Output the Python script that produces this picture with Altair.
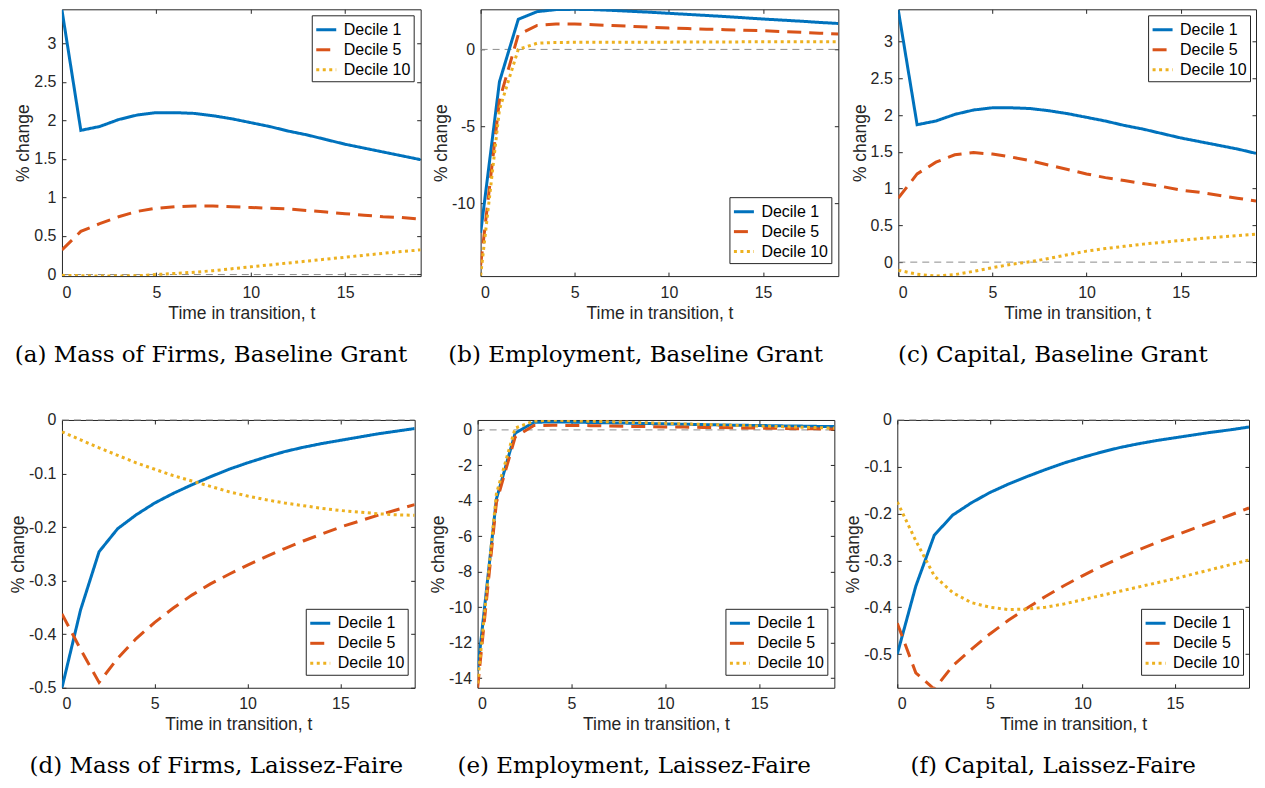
import altair as alt
import pandas as pd

T = list(range(20))
SERIES = ["Decile 1", "Decile 5", "Decile 10"]
COLORS = ["#0072BD", "#D95319", "#EDB120"]
DASHES = [[1, 0], [14, 8], [3, 3.5]]
X_TICKS = [0, 5, 10, 15]

# (a) Mass of Firms, Baseline Grant
a_d1 = [3.43, 1.87, 1.92, 2.01, 2.07, 2.10, 2.10, 2.09, 2.06, 2.02, 1.97, 1.92, 1.86, 1.81, 1.75, 1.69, 1.64, 1.59, 1.54, 1.49]
a_d5 = [0.32, 0.56, 0.66, 0.75, 0.82, 0.86, 0.88, 0.89, 0.89, 0.88, 0.87, 0.86, 0.85, 0.83, 0.81, 0.79, 0.77, 0.75, 0.74, 0.72]
a_d10 = [-0.01, -0.015, -0.02, -0.02, -0.015, 0.0, 0.015, 0.03, 0.05, 0.075, 0.10, 0.125, 0.15, 0.175, 0.20, 0.225, 0.25, 0.275, 0.30, 0.32]
a_yticks = [0, 0.5, 1, 1.5, 2, 2.5, 3]

# (b) Employment, Baseline Grant
b_d1 = [-11.9, -2.1, 1.95, 2.45, 2.58, 2.6, 2.58, 2.53, 2.47, 2.41, 2.34, 2.27, 2.2, 2.13, 2.05, 1.97, 1.9, 1.83, 1.75, 1.68]
b_d5 = [-14.0, -3.3, 0.95, 1.55, 1.65, 1.64, 1.6, 1.55, 1.5, 1.44, 1.38, 1.35, 1.31, 1.28, 1.24, 1.21, 1.16, 1.11, 1.05, 1.0]
b_d10 = [-14.67, -3.9, 0.0, 0.4, 0.45, 0.46, 0.47, 0.47, 0.47, 0.47, 0.47, 0.48, 0.48, 0.48, 0.49, 0.49, 0.49, 0.5, 0.5, 0.5]
b_yticks = [-10, -5, 0]

# (c) Capital, Baseline Grant
c_d1 = [3.43, 1.87, 1.92, 2.01, 2.07, 2.10, 2.10, 2.09, 2.06, 2.02, 1.97, 1.92, 1.86, 1.81, 1.75, 1.69, 1.64, 1.59, 1.54, 1.48]
c_d5 = [0.87, 1.2, 1.36, 1.46, 1.49, 1.47, 1.43, 1.38, 1.32, 1.26, 1.2, 1.15, 1.11, 1.07, 1.03, 0.98, 0.95, 0.91, 0.87, 0.83]
c_d10 = [-0.11, -0.165, -0.19, -0.17, -0.125, -0.075, -0.03, 0.005, 0.05, 0.1, 0.15, 0.185, 0.215, 0.245, 0.27, 0.295, 0.32, 0.34, 0.36, 0.38]
c_yticks = [0, 0.5, 1, 1.5, 2, 2.5, 3]

# (d) Mass of Firms, Laissez-Faire
d_d1 = [-0.5, -0.355, -0.246, -0.203, -0.177, -0.155, -0.137, -0.121, -0.106, -0.092, -0.08, -0.069, -0.059, -0.051, -0.044, -0.038, -0.032, -0.026, -0.021, -0.016]
d_d5 = [-0.362, -0.428, -0.49, -0.445, -0.408, -0.378, -0.351, -0.327, -0.306, -0.288, -0.271, -0.255, -0.24, -0.226, -0.213, -0.2, -0.189, -0.178, -0.168, -0.158]
d_d10 = [-0.022, -0.037, -0.052, -0.066, -0.08, -0.092, -0.104, -0.114, -0.124, -0.134, -0.142, -0.149, -0.155, -0.16, -0.165, -0.169, -0.172, -0.175, -0.177, -0.178]
d_yticks = [-0.5, -0.4, -0.3, -0.2, -0.1, 0]

# (e) Employment, Laissez-Faire
e_d1 = [-13.6, -3.9, -0.18, 0.43, 0.45, 0.44, 0.42, 0.40, 0.38, 0.36, 0.34, 0.32, 0.30, 0.28, 0.26, 0.25, 0.23, 0.22, 0.2, 0.19]
e_d5 = [-14.55, -4.1, -0.4, 0.25, 0.26, 0.25, 0.24, 0.22, 0.2, 0.19, 0.17, 0.16, 0.14, 0.13, 0.11, 0.1, 0.09, 0.07, 0.06, 0.05]
e_d10 = [-14.3, -3.6, 0.1, 0.5, 0.55, 0.52, 0.49, 0.46, 0.43, 0.4, 0.37, 0.34, 0.31, 0.28, 0.25, 0.22, 0.19, 0.16, 0.13, 0.1]
e_yticks = [-14, -12, -10, -8, -6, -4, -2, 0]

# (f) Capital, Laissez-Faire
f_d1 = [-0.5, -0.355, -0.246, -0.203, -0.177, -0.155, -0.137, -0.121, -0.106, -0.092, -0.08, -0.069, -0.059, -0.051, -0.044, -0.038, -0.032, -0.026, -0.021, -0.015]
f_d5 = [-0.434, -0.54, -0.575, -0.525, -0.49, -0.457, -0.428, -0.402, -0.377, -0.354, -0.333, -0.313, -0.295, -0.278, -0.262, -0.247, -0.232, -0.218, -0.203, -0.188]
f_d10 = [-0.175, -0.258, -0.333, -0.369, -0.39, -0.4, -0.405, -0.404, -0.4, -0.393, -0.384, -0.375, -0.366, -0.357, -0.348, -0.339, -0.329, -0.319, -0.309, -0.299]
f_yticks = [-0.5, -0.4, -0.3, -0.2, -0.1, 0]

LEG_W = 100
LEG_H = 66


def panel(d1, d5, d10, ydom, yticks, caption, cap_dx, width, height, legend_top, leg_right=9, leg_gap=13):
    rows = []
    for name, vals in zip(SERIES, (d1, d5, d10)):
        for t, v in zip(T, vals):
            rows.append({"t": t, "v": v, "s": name})
    df = pd.DataFrame(rows)
    xs = alt.Scale(domain=[0, 19], nice=False, zero=False)
    ys = alt.Scale(domain=ydom, nice=False, zero=False)

    lx = width - leg_right - LEG_W
    ly = 6 if legend_top else height - leg_gap - LEG_H
    leg = alt.Legend(
        title=None, orient="none", legendX=lx, legendY=ly,
        symbolType="stroke", symbolSize=400, symbolStrokeWidth=3,
        labelFontSize=16, labelFont="Liberation Sans", labelColor="black",
        padding=3, rowPadding=0, labelOffset=6,
        strokeColor="#262626", fillColor="white",
    )

    zero_df = pd.DataFrame({"x0": [0], "x1": [19], "z": [0]})
    zero = alt.Chart(zero_df).mark_rule(color="#8c8c8c", strokeWidth=1, strokeDash=[7, 5]).encode(
        x=alt.X("x0:Q", scale=xs, axis=alt.Axis(orient="top", offset=-4, tickSize=4, labels=False,
                                                 domain=False, title=None, grid=False, values=X_TICKS)),
        x2="x1:Q",
        y=alt.Y("z:Q", scale=ys, axis=alt.Axis(orient="right", offset=-4, tickSize=4, labels=False,
                                                domain=False, title=None, grid=False, values=yticks)),
    )
    lines = alt.Chart(df).mark_line(strokeWidth=3, clip=True, strokeCap="butt").encode(
        x=alt.X("t:Q", scale=xs, axis=alt.Axis(orient="bottom", offset=-4, tickSize=4, labelPadding=8,
                                                values=X_TICKS, domain=False, grid=False,
                                                title="Time in transition, t", titlePadding=4,
                                                labelExpr="toString(datum.value)")),
        y=alt.Y("v:Q", scale=ys, axis=alt.Axis(orient="left", offset=-4, tickSize=4, labelPadding=6,
                                                values=yticks, domain=False, grid=False,
                                                title="% change", titlePadding=1,
                                                labelExpr="toString(datum.value)")),
        color=alt.Color("s:N", scale=alt.Scale(domain=SERIES, range=COLORS), legend=leg),
        strokeDash=alt.StrokeDash("s:N", scale=alt.Scale(domain=SERIES, range=DASHES), legend=leg),
    )
    return alt.layer(zero, lines).resolve_axis(x="independent", y="independent").properties(
        width=width, height=height,
        title=alt.TitleParams(caption, orient="bottom", anchor="middle", frame="bounds",
                              offset=22, dx=cap_dx),
    )


pa = panel(a_d1, a_d5, a_d10, [-0.02, 3.44], a_yticks, "(a) Mass of Firms, Baseline Grant", -7, 359, 267, True)
pb = panel(b_d1, b_d5, b_d10, [-14.7, 2.6], b_yticks, "(b) Employment, Baseline Grant", 0, 358, 267, False)
pc = panel(c_d1, c_d5, c_d10, [-0.19, 3.44], c_yticks, "(c) Capital, Baseline Grant", -1, 358, 267, True, leg_right=8)
pd_ = panel(d_d1, d_d5, d_d10, [-0.5, 0], d_yticks, "(d) Mass of Firms, Laissez-Faire", 4, 353, 268, False)
pe = panel(e_d1, e_d5, e_d10, [-14.55, 0.56], e_yticks, "(e) Employment, Laissez-Faire", 2, 357, 268, False)
pf = panel(f_d1, f_d5, f_d10, [-0.572, 0], f_yticks, "(f) Capital, Laissez-Faire", 6, 352, 268, False, leg_right=8)

top = alt.hconcat(pa, pb, pc, spacing=60, bounds="flush").resolve_legend(color="independent", strokeDash="independent")
bottom = alt.hconcat(pd_, pe, pf, spacing=63, bounds="flush").resolve_legend(color="independent", strokeDash="independent")

chart = alt.vconcat(top, bottom, spacing=44).resolve_legend(
    color="independent", strokeDash="independent"
).properties(
    padding={"left": 0, "top": 0, "right": 0, "bottom": 0},
    background="white",
).configure_view(
    stroke="#262626", strokeWidth=1
).configure_axis(
    labelFont="Liberation Sans", labelFontSize=16, labelColor="#262626",
    titleFont="Liberation Sans", titleFontSize=17.5, titleFontWeight="normal", titleColor="#262626",
    tickColor="#262626", tickWidth=1,
).configure_title(
    font="DejaVu Serif", fontSize=23, fontWeight="normal", color="black"
)

chart.save("out.html", embed_options={"renderer": "svg", "actions": False})
